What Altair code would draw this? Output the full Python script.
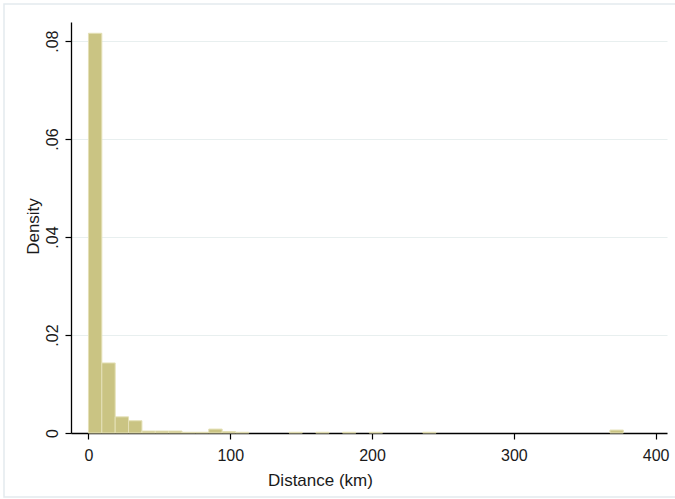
import altair as alt
import pandas as pd

# Histogram of distances: 40 bins of equal width starting at 0 km
bin_width = 9.43
density = [
    0.0816, 0.0143, 0.0033, 0.0025, 0.0004, 0.0004, 0.0004, 0.00015,
    0.00015, 0.0008, 0.0003, 0.00015, 0.0, 0.0, 0.0, 0.00015,
    0.0, 0.00015, 0.0, 0.00015, 0.0, 0.00015, 0.0, 0.0,
    0.0, 0.00015, 0.0, 0.0, 0.0, 0.0, 0.0, 0.0,
    0.0, 0.0, 0.0, 0.0, 0.0, 0.0, 0.0, 0.0006,
]
x_ticks = [0, 100, 200, 300, 400]
y_ticks = [0, 0.02, 0.04, 0.06, 0.08]

bins = pd.DataFrame({
    "lo": [i * bin_width for i in range(len(density))],
    "hi": [(i + 1) * bin_width for i in range(len(density))],
    "density": density,
})

FONT = "Liberation Sans"

x_scale = alt.Scale(domain=[-12.3, 408], nice=False, zero=False)
y_scale = alt.Scale(domain=[0, 0.0839], nice=False)

bars = (
    alt.Chart(bins)
    .transform_filter("datum.density > 0")
    .mark_rect(fill="#cac483", stroke="#e4e0b6", strokeWidth=1)
    .encode(
        x=alt.X(
            "lo:Q",
            scale=x_scale,
            axis=alt.Axis(
                values=x_ticks,
                title="Distance (km)",
                grid=False,
                domainColor="#000000",
                domainWidth=1.3,
                tickColor="#000000",
                tickSize=6,
                tickWidth=1.2,
                labelFont=FONT,
                labelFontSize=16,
                labelColor="#1a1a1a",
                labelBaseline="alphabetic",
                labelPadding=21,
                titleFont=FONT,
                titleFontSize=17,
                titleFontWeight="normal",
                titleColor="#1a1a1a",
                titleAlign="center",
                titleBaseline="alphabetic",
                titleX=249,
                titleY=52,
            ),
        ),
        x2="hi:Q",
        y=alt.Y(
            "density:Q",
            scale=y_scale,
            axis=alt.Axis(
                values=y_ticks,
                title="Density",
                grid=True,
                gridColor="#e8efef",
                gridWidth=1.2,
                domainColor="#000000",
                domainWidth=1.3,
                tickColor="#000000",
                tickSize=6,
                tickWidth=1.2,
                labelAngle=270,
                labelAlign="center",
                labelBaseline="alphabetic",
                labelPadding=8,
                labelFont=FONT,
                labelFontSize=16,
                labelColor="#1a1a1a",
                labelExpr="datum.value == 0 ? '0' : substring(format(datum.value, '.2f'), 1)",
                titleFont=FONT,
                titleFontSize=17,
                titleFontWeight="normal",
                titleColor="#1a1a1a",
                titleAngle=270,
                titleAlign="center",
                titleBaseline="alphabetic",
                titleX=-33,
                titleY=204,
            ),
        ),
        y2=alt.datum(0),
    )
)

# Thin outer frame of the graph region
frame = (
    alt.Chart(alt.Data(values=[{}]))
    .mark_rect(fill=None, stroke="#e3eaee", strokeWidth=1.5)
    .encode(
        x=alt.value(-67),
        x2=alt.value(700),
        y=alt.value(-18),
        y2=alt.value(475),
    )
)

chart = (
    alt.layer(frame, bars)
    .properties(
        width=596,
        height=411,
        autosize=alt.AutoSizeParams(type="none"),
        padding={"left": 71, "top": 22, "right": 8, "bottom": 66},
        background="#ffffff",
    )
    .configure_view(stroke=None)
)

chart.save("out.html", embed_options={"renderer": "svg", "actions": False})
